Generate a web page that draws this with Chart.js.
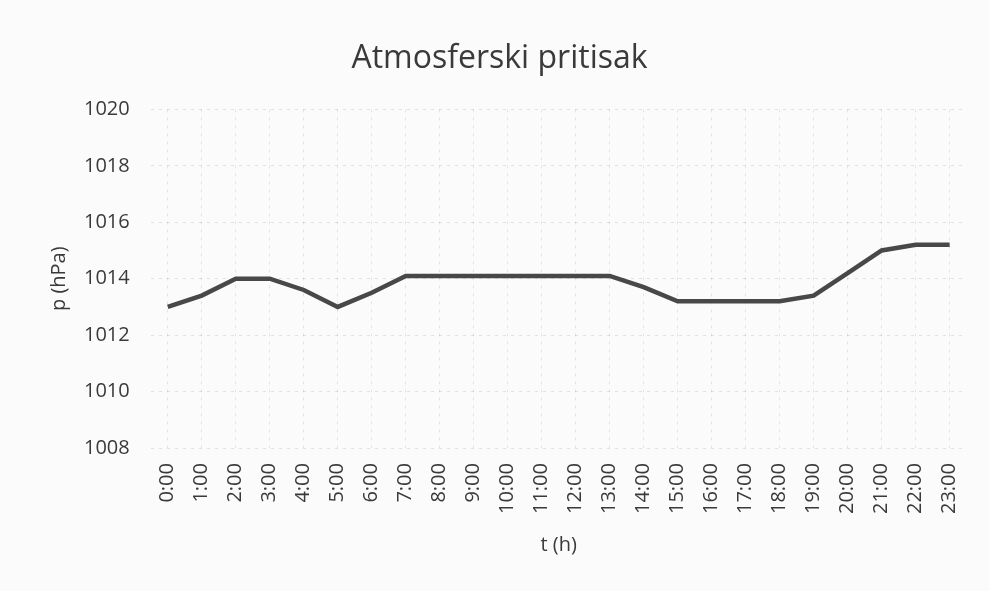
<!DOCTYPE html>
<html>
<head>
<meta charset="utf-8">
<script src="https://cdn.jsdelivr.net/npm/chart.js@4/dist/chart.umd.min.js"></script>
<style>
html,body{margin:0;padding:0;background:#fbfbfb;}
#wrap{width:989px;height:591px;position:relative;}
</style>
</head>
<body>
<div id="wrap"><canvas id="c" width="989" height="591"></canvas></div>
<script>
const hours = ["0:00","1:00","2:00","3:00","4:00","5:00","6:00","7:00","8:00","9:00","10:00","11:00","12:00","13:00","14:00","15:00","16:00","17:00","18:00","19:00","20:00","21:00","22:00","23:00"];
const pressure = [1013.0,1013.4,1014.0,1014.0,1013.6,1013.0,1013.5,1014.1,1014.1,1014.1,1014.1,1014.1,1014.1,1014.1,1013.7,1013.2,1013.2,1013.2,1013.2,1013.4,1014.2,1015.0,1015.2,1015.2];
const titleText = "Atmosferski pritisak";
const xTitle = "t (h)";
const yTitle = "p (hPa)";

const FONT = "'Open Sans', sans-serif";
const TXT = "#3a3a3a";

new Chart(document.getElementById('c'), {
  type: 'line',
  data: {
    labels: hours,
    datasets: [{
      data: pressure,
      borderColor: '#484848',
      borderWidth: 4.5,
      pointRadius: 0,
      tension: 0,
      fill: false
    }]
  },
  options: {
    responsive: false,
    animation: false,
    devicePixelRatio: 1,
    layout: { padding: { left: 27, right: 17, top: 40, bottom: 34 } },
    plugins: {
      legend: { display: false },
      tooltip: { enabled: false },
      title: {
        display: true,
        text: titleText,
        color: TXT,
        font: { family: FONT, size: 32, weight: 'normal' },
        padding: { top: 0, bottom: 31 }
      }
    },
    scales: {
      x: {
        offset: true,
        grid: { color: 'rgba(0,0,0,0.09)', drawTicks: false },
        border: { display: false, dash: [3,5] },
        ticks: {
          color: TXT,
          font: { family: FONT, size: 20 },
          minRotation: 90, maxRotation: 90,
          autoSkip: false,
          padding: 15
        },
        title: {
          display: true,
          text: xTitle,
          color: TXT,
          font: { family: FONT, size: 20 },
          padding: { top: 4, bottom: 0 }
        }
      },
      y: {
        min: 1008, max: 1020,
        grid: { color: 'rgba(0,0,0,0.10)', drawTicks: false },
        border: { display: false, dash: [3,5] },
        ticks: {
          stepSize: 2,
          color: TXT,
          font: { family: FONT, size: 20 },
          padding: 21,
          callback: function(v){ return String(v); }
        },
        title: {
          display: true,
          text: yTitle,
          color: TXT,
          font: { family: FONT, size: 20 },
          padding: { top: 20, bottom: -8 }
        }
      }
    }
  }
});
</script>
</body>
</html>
